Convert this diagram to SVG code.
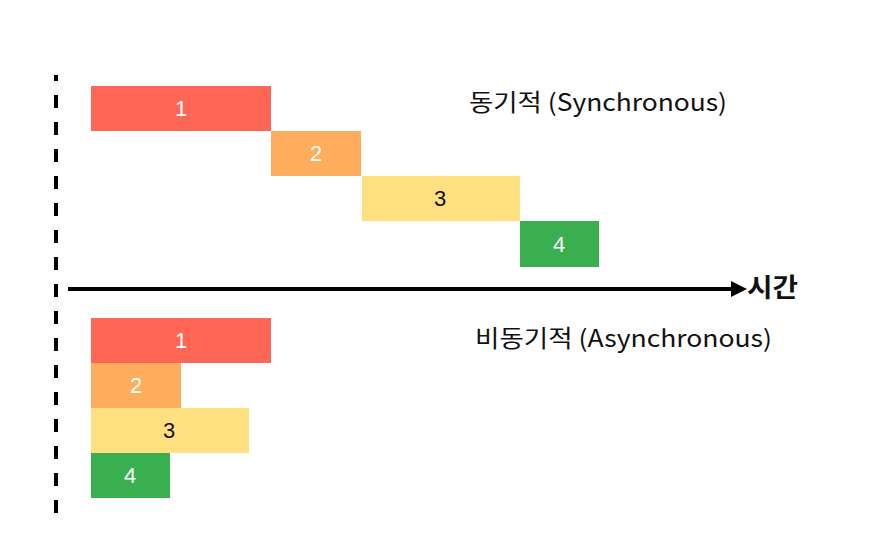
<svg xmlns="http://www.w3.org/2000/svg" width="876" height="537" viewBox="0 0 876 537">
<style>
.num{font-family:"Liberation Sans",Arial,sans-serif;font-size:22px;text-anchor:middle;fill:#fff}
.dark{fill:#111}
.lbl{font-family:"Noto Sans CJK KR","Noto Sans",sans-serif;font-size:24px;fill:#111}
.r1{fill:#FF6655}.r2{fill:#FFAD5C}.r3{fill:#FFE080}.r4{fill:#3AAF50}
</style>
<defs>
<marker id="ah" markerWidth="4" markerHeight="4" refX="0" refY="2" orient="auto" markerUnits="strokeWidth">
<path d="M0,0 L4,2 L0,4 Z" fill="#000"/>
</marker>
</defs>
<rect width="876" height="537" fill="#fff"/>
<g id="connectors">
<line x1="56" y1="75" x2="56" y2="517" stroke="#000" stroke-width="4" stroke-dasharray="13 14" stroke-dashoffset="7"/>
<line x1="68" y1="289" x2="731" y2="289" stroke="#000" stroke-width="4" marker-end="url(#ah)"/>
</g>
<g id="sync-label"><text class="lbl" x="469" y="111" textLength="258" lengthAdjust="spacingAndGlyphs">동기적 (Synchronous)</text></g>
<g id="async-label"><text class="lbl" x="475" y="347" textLength="297" lengthAdjust="spacingAndGlyphs">비동기적 (Asynchronous)</text></g>
<g id="time-label"><text class="lbl" x="747" y="297" style="font-weight:bold;font-size:26px" textLength="51" lengthAdjust="spacingAndGlyphs">시간</text></g>
<g id="s1"><rect class="r1" x="91" y="86" width="180" height="45"/><text class="num" x="181" y="116">1</text></g>
<g id="s2"><rect class="r2" x="271" y="131" width="90" height="45"/><text class="num" x="316" y="161">2</text></g>
<g id="s3"><rect class="r3" x="362" y="176" width="158" height="45"/><text class="num dark" x="440" y="206">3</text></g>
<g id="s4"><rect class="r4" x="520" y="221" width="79" height="46"/><text class="num" x="559" y="252">4</text></g>
<g id="a1"><rect class="r1" x="91" y="318" width="180" height="45"/><text class="num" x="181" y="348">1</text></g>
<g id="a2"><rect class="r2" x="91" y="363" width="90" height="45"/><text class="num" x="136" y="393">2</text></g>
<g id="a3"><rect class="r3" x="91" y="408" width="158" height="45"/><text class="num dark" x="169" y="438">3</text></g>
<g id="a4"><rect class="r4" x="91" y="453" width="79" height="45"/><text class="num" x="130" y="483">4</text></g>
</svg>
